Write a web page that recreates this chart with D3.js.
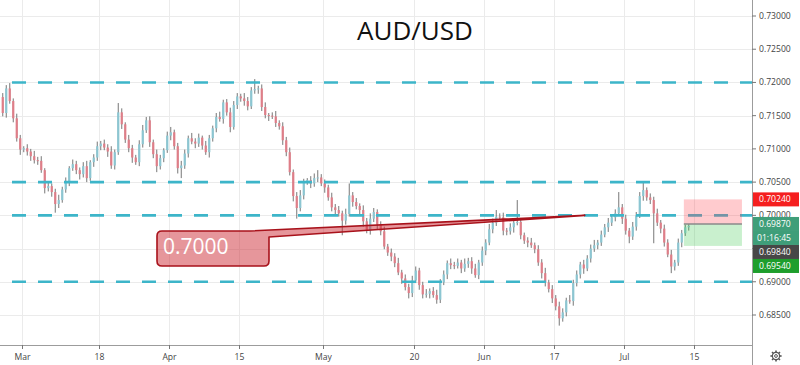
<!DOCTYPE html>
<html><head><meta charset="utf-8">
<script src="https://cdn.jsdelivr.net/npm/d3@7"></script>
<style>body{margin:0;background:#fff}svg{display:block}</style>
</head><body><svg id="c" width="800" height="365"></svg>
<script>
const title = "AUD/USD";
// trading-day index (0 = Mar 1, 2019)
const dateTicks = [0, 11, 21, 31, 43, 56, 66, 76, 86, 96];
const dateLabels = ["Mar", "18", "Apr", "15", "May", "20", "Jun", "17", "Jul", "15"];
const priceTicks = [0.685, 0.69, 0.695, 0.70, 0.705, 0.71, 0.715, 0.72, 0.725, 0.73];
const levels = [0.72, 0.705, 0.70, 0.69];
const firstDay = -3;          // Feb 26
const barsPerDay = 2;
const firstOpen = 7178;       // pips (0.7178)
const closes = [
7154,7191,7172,7146,7116,7099,7101,7096,7089,7083,
7082,7068,7041,7044,7035,7017,7023,7039,7051,7071,
7077,7068,7062,7074,7056,7080,7087,7104,7108,7102,
7096,7075,7095,7155,7137,7114,7101,7087,7080,7107,
7128,7143,7110,7092,7074,7086,7098,7120,7125,7104,
7071,7075,7093,7116,7111,7108,7117,7105,7095,7116,
7131,7148,7145,7170,7155,7133,7166,7179,7176,7172,
7164,7188,7190,7191,7163,7151,7150,7149,7139,7134,
7113,7095,7065,7029,7011,7030,7050,7053,7048,7056,
7057,7048,7042,7027,7012,7008,7003,6992,7002,7030,
7020,7014,7008,6991,6977,6995,7005,6986,6976,6953,
6944,6938,6928,6914,6905,6892,6883,6902,6917,6895,
6881,6882,6886,6880,6873,6899,6911,6928,6925,6924,
6929,6920,6927,6931,6920,6910,6929,6947,6959,6979,
6989,6998,6997,6977,6976,6982,6989,6990,6970,6962,
6959,6955,6949,6929,6913,6899,6889,6875,6863,6845,
6854,6872,6871,6898,6911,6926,6920,6935,6950,6955,
6959,6971,6982,6989,6997,7003,7012,6995,6977,6968,
6983,7000,7029,7038,7027,7023,7003,6989,6980,6959,
6941,6923,6929,6959,6973,6982,6984];
const wickUp = [
6,5,8,4,7,5,3,6,4,8, 5,7,3,6,4,5,8,4,6,3, 7,5,4,6,8,3,5,7,4,6, 5,8,4,14,6,3,7,5,4,6,
8,5,6,4,7,5,3,6,8,4, 5,7,6,4,8,5,6,3,7,5, 4,6,8,4,5,7,6,5,4,8, 6,5,15,4,6,7,3,5,8,4,
6,5,7,4,6,8,5,3,6,7, 11,5,6,4,7,5,6,4,8,18, 5,6,4,7,5,8,6,4,5,7, 4,6,5,8,4,6,5,7,6,4,
5,7,4,6,8,5,6,4,7,5, 6,4,8,5,6,7,4,6,5,8, 6,10,5,7,4,6,5,33,6,4, 5,7,4,6,5,8,4,6,5,7,
6,4,8,5,6,4,7,5,6,8, 4,6,5,7,4,6,23,5,6,4, 7,5,6,12,4,6,5,7,4,6, 5,7,4,6,5,4,3];
const wickDn = [
5,7,4,6,5,8,4,6,7,5, 6,4,8,5,7,13,6,4,5,7, 4,6,8,5,6,4,7,5,6,4, 8,5,6,4,7,5,6,8,4,6,
5,4,7,6,9,5,6,4,7,5, 8,15,5,6,4,7,5,6,4,8, 5,6,4,7,5,8,4,6,5,7, 6,4,5,7,6,5,8,4,6,5,
7,6,5,8,16,5,6,4,7,5, 6,4,8,5,6,7,5,22,6,4, 7,5,6,8,4,6,5,7,6,4, 5,7,6,4,8,5,8,6,4,7,
6,5,7,4,6,5,4,7,6,5, 4,7,5,6,8,4,6,5,7,4, 6,5,4,7,6,5,8,4,6,5, 7,4,6,5,8,6,5,7,6,11,
5,6,4,7,5,6,8,4,6,5, 6,5,4,7,5,6,4,8,6,10, 5,6,4,7,5,6,45,5,7,6, 4,10,6,5,7,4,5];
const calloutText = "0.7000";
const calloutPrice = 0.70;
const calloutDay = 80.4;
const posStart = 94.55, posEnd = 102.85;
const posStop = 0.7024, posEntry = 0.6987, posTarget = 0.6954;
const priceLabels = [
  {text: "0.70240", price: 0.7024, color: "#f51f1f"},
  {text: "0.69870", price: 0.6987, color: "#3f9e79"},
  {text: "01:16:45", price: null, color: "#3f9e79"},
  {text: "0.69840", price: 0.6984, color: "#474747"},
  {text: "0.69540", price: 0.6954, color: "#1e9e2c"}
];

const svg = d3.select("#c");
const W = 800, H = 365, plotR = 752, plotB = 345;
const xs = d3.scaleLinear().domain([0, 96]).range([22, 694]);
const ys = d3.scaleLinear().domain([0.685, 0.73]).range([315, 16]);
const font = "'Open Sans', 'DejaVu Sans', sans-serif";

// grid
const g = svg.append("g");
g.selectAll("line.h").data(priceTicks).join("line")
  .attr("x1", 0).attr("x2", plotR).attr("y1", d => Math.round(ys(d)) + 0.5).attr("y2", d => Math.round(ys(d)) + 0.5)
  .attr("stroke", "#ebebeb").attr("stroke-width", 1);
g.selectAll("line.v").data(dateTicks).join("line")
  .attr("y1", 0).attr("y2", plotB).attr("x1", d => Math.round(xs(d)) + 0.5).attr("x2", d => Math.round(xs(d)) + 0.5)
  .attr("stroke", "#ebebeb").attr("stroke-width", 1);

// title
svg.append("text").attr("x", 415).attr("y", 40).attr("text-anchor", "middle")
  .attr("font-family", font).attr("font-size", 26).attr("fill", "#111").text(title);

// candles
const bars = closes.map((c, j) => {
  const o = j === 0 ? firstOpen : closes[j - 1];
  return {t: firstDay + j / barsPerDay, o: o / 10000, c: c / 10000,
          h: (Math.max(o, c) + wickUp[j]) / 10000, l: (Math.min(o, c) - wickDn[j]) / 10000};
});
const bw = 7 / barsPerDay;
const cg = svg.append("g");
cg.selectAll("line").data(bars).join("line")
  .attr("x1", d => xs(d.t) + bw / 2).attr("x2", d => xs(d.t) + bw / 2)
  .attr("y1", d => ys(d.h)).attr("y2", d => ys(d.l))
  .attr("stroke", "#777").attr("stroke-width", 1);
cg.selectAll("rect").data(bars).join("rect")
  .attr("x", d => xs(d.t) + bw / 2 - 1.1).attr("width", 2.2)
  .attr("y", d => ys(Math.max(d.o, d.c)))
  .attr("height", d => Math.max(1, Math.abs(ys(d.o) - ys(d.c))))
  .attr("fill", d => d.c >= d.o ? "#8cc6d2" : "#df7e88");

// dashed levels
svg.append("g").selectAll("line").data(levels).join("line")
  .attr("x1", 12).attr("x2", plotR).attr("y1", d => ys(d)).attr("y2", d => ys(d))
  .attr("stroke", "#3db5c9").attr("stroke-width", 2.6).attr("stroke-dasharray", "14 12");

// callout
const tipX = xs(calloutDay), tipY = ys(calloutPrice);
const rx0 = 157, rx1 = 269, ry0 = 231, ry1 = 266, r = 5;
const path = `M${rx0 + r},${ry0} L250,${ry0} L${tipX},${tipY} L${rx1},${ry0 + 6} L${rx1},${ry1 - r} Q${rx1},${ry1} ${rx1 - r},${ry1} L${rx0 + r},${ry1} Q${rx0},${ry1} ${rx0},${ry1 - r} L${rx0},${ry0 + r} Q${rx0},${ry0} ${rx0 + r},${ry0} Z`;
svg.append("path").attr("d", path).attr("fill", "rgba(205,45,55,0.5)")
  .attr("stroke", "#a8121b").attr("stroke-width", 1.6).attr("stroke-linejoin", "round");
svg.append("text").attr("x", 163).attr("y", 254).attr("font-family", font)
  .attr("font-size", 21).attr("fill", "#fff").text(calloutText);

// position tool
const px0 = xs(posStart), px1 = xs(posEnd);
svg.append("rect").attr("x", px0).attr("width", px1 - px0).attr("y", ys(posStop))
  .attr("height", ys(posEntry) - ys(posStop)).attr("fill", "rgba(255,70,80,0.28)");
svg.append("rect").attr("x", px0).attr("width", px1 - px0).attr("y", ys(posEntry))
  .attr("height", ys(posTarget) - ys(posEntry)).attr("fill", "rgba(60,200,80,0.28)");
svg.append("line").attr("x1", px0).attr("x2", px1).attr("y1", ys(posEntry)).attr("y2", ys(posEntry))
  .attr("stroke", "#8a8a8a").attr("stroke-width", 1.5);

// axes
svg.append("rect").attr("x", plotR + 1).attr("y", 0).attr("width", W - plotR).attr("height", H).attr("fill", "#fff");
svg.append("rect").attr("x", 0).attr("y", plotB + 1).attr("width", plotR).attr("height", H - plotB).attr("fill", "#fff");
svg.append("line").attr("x1", plotR + 0.5).attr("x2", plotR + 0.5).attr("y1", 0).attr("y2", H)
  .attr("stroke", "#9c9c9c");
svg.append("line").attr("x1", 0).attr("x2", plotR).attr("y1", plotB + 0.5).attr("y2", plotB + 0.5)
  .attr("stroke", "#9c9c9c");

// price labels (stacked) - compute boxes first
const lh = 14;
let prevBottom = -Infinity;
const boxes = priceLabels.map(L => {
  const cy = L.price === null ? prevBottom + lh / 2 : Math.max(ys(L.price), prevBottom + lh / 2);
  prevBottom = cy + lh / 2;
  return Object.assign({cy}, L);
});
const boxTop = d3.min(boxes, b => b.cy - lh / 2);
const boxBot = d3.max(boxes, b => b.cy + lh / 2);

svg.append("clipPath").attr("id", "axclip").append("rect")
  .attr("x", plotR).attr("y", 0).attr("width", W - plotR).attr("height", d3.min(boxes.slice(1), b => b.cy - lh / 2));
const ya = svg.append("g");
priceTicks.forEach(p => {
  const y = ys(p);
  const covered = boxes.some(b => Math.abs(b.cy - y) < lh / 2 - 3);
  ya.append("line").attr("x1", plotR).attr("x2", plotR + 4).attr("y1", y).attr("y2", y).attr("stroke", "#777");
  if (covered) return;
  const partly = boxes.some(b => Math.abs(b.cy - y) < lh / 2 + 4);
  ya.append("text").attr("x", 759).attr("y", y).attr("dy", "0.35em").attr("font-family", font)
    .attr("font-size", 8.6).attr("fill", "#444").attr("clip-path", partly ? "url(#axclip)" : null)
    .text(p.toFixed(5));
});
const xa = svg.append("g");
dateTicks.forEach((t, i) => {
  const x = Math.round(xs(t)) + 0.5;
  xa.append("line").attr("x1", x).attr("x2", x).attr("y1", plotB).attr("y2", plotB + 4).attr("stroke", "#777");
  xa.append("text").attr("x", x).attr("y", 359.5).attr("text-anchor", "middle").attr("font-family", font)
    .attr("font-size", 8.6).attr("fill", "#444").text(dateLabels[i]);
});

boxes.forEach(L => {
  svg.append("rect").attr("x", plotR + 1).attr("y", L.cy - lh / 2).attr("width", W - plotR - 2).attr("height", lh)
    .attr("fill", L.color);
  svg.append("text").attr("x", L.price === null ? 757 : 759).attr("y", L.cy).attr("dy", "0.35em")
    .attr("font-family", font).attr("font-size", 8.6).attr("fill", "#fff").text(L.text);
});

// gear icon
const gx = 776, gy = 356;
const gear = svg.append("g").attr("stroke", "#555").attr("fill", "none");
gear.append("circle").attr("cx", gx).attr("cy", gy).attr("r", 3.6).attr("stroke-width", 1.2);
gear.append("circle").attr("cx", gx).attr("cy", gy).attr("r", 1.4).attr("stroke-width", 1);
d3.range(8).forEach(i => {
  const a = i * Math.PI / 4;
  gear.append("line").attr("x1", gx + 3.6 * Math.cos(a)).attr("y1", gy + 3.6 * Math.sin(a))
    .attr("x2", gx + 5.6 * Math.cos(a)).attr("y2", gy + 5.6 * Math.sin(a)).attr("stroke-width", 1.6);
});
</script></body></html>
